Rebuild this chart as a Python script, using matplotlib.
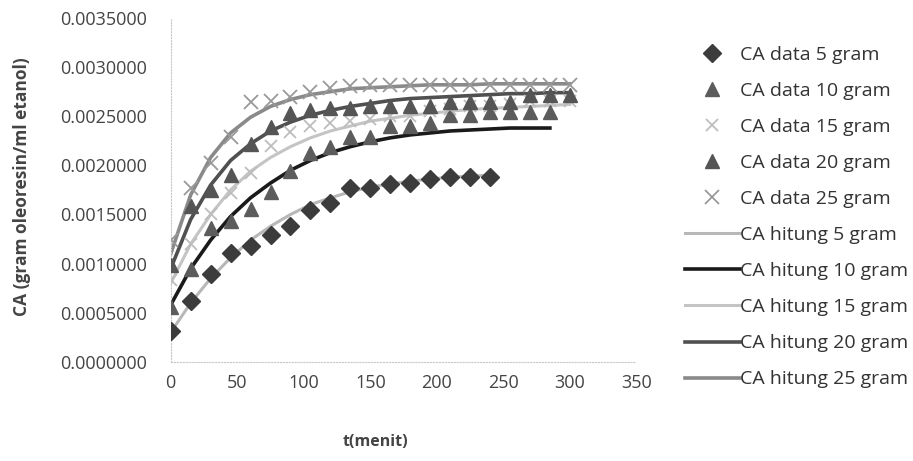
import matplotlib
matplotlib.use("Agg")
import matplotlib.pyplot as plt

plt.rcParams['font.family'] = ['Open Sans', 'DejaVu Sans']

# waktu (menit)
t_5 = [0, 15, 30, 45, 60, 75, 90, 105, 120, 135, 150, 165, 180, 195, 210, 225, 240]
t_10 = [0, 15, 30, 45, 60, 75, 90, 105, 120, 135, 150, 165, 180, 195, 210, 225, 240, 255, 270, 285]
t_all = [0, 15, 30, 45, 60, 75, 90, 105, 120, 135, 150, 165, 180, 195, 210, 225, 240, 255, 270, 285, 300]

# CA data
data_5 = [0.00031, 0.00062, 0.00089, 0.00111, 0.00118, 0.00129, 0.00138, 0.00155, 0.00162,
          0.00177, 0.00177, 0.00181, 0.00182, 0.00186, 0.00188, 0.00188, 0.00188]
data_10 = [0.00056, 0.00095, 0.00136, 0.00143, 0.00156, 0.00173, 0.00194, 0.00213, 0.00219, 0.00229,
           0.00229, 0.00240, 0.00240, 0.00243, 0.00251, 0.00251, 0.00254, 0.00254, 0.00254, 0.00254]
data_15 = [0.00083, 0.00120, 0.00150, 0.00172, 0.00192, 0.00220, 0.00234, 0.00240, 0.00243, 0.00245,
           0.00247, 0.00250, 0.00250, 0.00255, 0.00257, 0.00260, 0.00260, 0.00262, 0.00265, 0.00265, 0.00265]
data_20 = [0.00099, 0.00159, 0.00175, 0.00190, 0.00222, 0.00239, 0.00253, 0.00256, 0.00258, 0.00258,
           0.00260, 0.00260, 0.00260, 0.00260, 0.00264, 0.00264, 0.00264, 0.00264, 0.00272, 0.00272, 0.00272]
data_25 = [0.00124, 0.00177, 0.00202, 0.00229, 0.00264, 0.00265, 0.00270, 0.00275, 0.00279, 0.00281,
           0.00282, 0.00282, 0.00282, 0.00282, 0.00282, 0.00282, 0.00282, 0.00282, 0.00282, 0.00282, 0.00282]

# CA hitung
calc_5 = [0.00030, 0.00060, 0.00085, 0.00106, 0.00124, 0.00138, 0.00150, 0.00160, 0.00167,
          0.00173, 0.00178, 0.00181, 0.00184, 0.00186, 0.00188, 0.00189, 0.00190]
calc_10 = [0.00058, 0.00095, 0.00124, 0.00148, 0.00167, 0.00182, 0.00195, 0.00205, 0.00213, 0.00219,
           0.00224, 0.00228, 0.00231, 0.00233, 0.00235, 0.00236, 0.00237, 0.00238, 0.00238, 0.00238]
calc_15 = [0.00080, 0.00120, 0.00150, 0.00175, 0.00194, 0.00208, 0.00219, 0.00228, 0.00235, 0.00240,
           0.00245, 0.00248, 0.00251, 0.00253, 0.00255, 0.00257, 0.00258, 0.00259, 0.00260, 0.00261, 0.00262]
calc_20 = [0.00095, 0.00145, 0.00180, 0.00205, 0.00222, 0.00235, 0.00244, 0.00251, 0.00256, 0.00260,
           0.00263, 0.00266, 0.00268, 0.00269, 0.00270, 0.00271, 0.00272, 0.00273, 0.00273, 0.00274, 0.00274]
calc_25 = [0.00110, 0.00170, 0.00208, 0.00233, 0.00249, 0.00260, 0.00267, 0.00272, 0.00275, 0.00278,
           0.00279, 0.00280, 0.00281, 0.00282, 0.00282, 0.00282, 0.00283, 0.00283, 0.00283, 0.00283, 0.00283]

fig = plt.figure(figsize=(9.13, 4.61), dpi=100)
ax = fig.add_axes([0.187, 0.215, 0.51, 0.746])

# data points
ax.plot(t_5, data_5, 'D', color='#3c3c3c', ms=9, ls='none', label='CA data 5 gram', zorder=3)
ax.plot(t_10, data_10, '^', color='#5c5c5c', ms=10.5, ls='none', label='CA data 10 gram', zorder=3)
ax.plot(t_all, data_15, 'x', color='#bdbdbd', ms=9, mew=1.3, ls='none', label='CA data 15 gram', zorder=3)
ax.plot(t_all, data_20, '^', color='#555555', ms=10.5, ls='none', label='CA data 20 gram', zorder=3)
ax.plot(t_all, data_25, 'x', color='#999999', ms=10, mew=1.3, ls='none', label='CA data 25 gram', zorder=3)

# calculated lines
ax.plot(t_5, calc_5, '-', color='#b8b8b8', lw=2.2, label='CA hitung 5 gram', zorder=2)
ax.plot(t_10, calc_10, '-', color='#1a1a1a', lw=2.6, label='CA hitung 10 gram', zorder=2)
ax.plot(t_all, calc_15, '-', color='#c4c4c4', lw=2.2, label='CA hitung 15 gram', zorder=2)
ax.plot(t_all, calc_20, '-', color='#505050', lw=2.6, label='CA hitung 20 gram', zorder=2)
ax.plot(t_all, calc_25, '-', color='#8a8a8a', lw=2.6, label='CA hitung 25 gram', zorder=2)

ax.set_xlim(0, 350)
ax.set_ylim(0, 0.0035)
ax.set_xticks([0, 50, 100, 150, 200, 250, 300, 350])
ax.set_yticks([0, 0.0005, 0.001, 0.0015, 0.002, 0.0025, 0.003, 0.0035])
ax.set_yticklabels(['%.7f' % v for v in ax.get_yticks()])
ax.tick_params(length=0, labelsize=13, colors='#444444')
ax.tick_params(axis='y', pad=17)
ax.tick_params(axis='x', pad=9)

for s in ['top', 'right']:
    ax.spines[s].set_visible(False)
for s in ['left', 'bottom']:
    ax.spines[s].set_color('#c8c8c8')
    ax.spines[s].set_linestyle(':')

ax.set_ylabel('CA (gram oleoresin/ml etanol)', fontsize=12.5, fontweight='bold', color='#444444')
ax.yaxis.set_label_coords(-0.30, 0.51)
ax.set_xlabel('t(menit)', fontsize=11.5, fontweight='bold', color='#444444')
ax.xaxis.set_label_coords(0.44, -0.21)

leg = fig.legend(loc='upper left', bbox_to_anchor=(0.750, 0.901), frameon=False,
                 fontsize=14, labelspacing=0.93, handlelength=2.84, handletextpad=0.0,
                 borderaxespad=0, borderpad=0)
for txt in leg.get_texts():
    txt.set_color('#333333')

fig.savefig('out.png', dpi=100)
